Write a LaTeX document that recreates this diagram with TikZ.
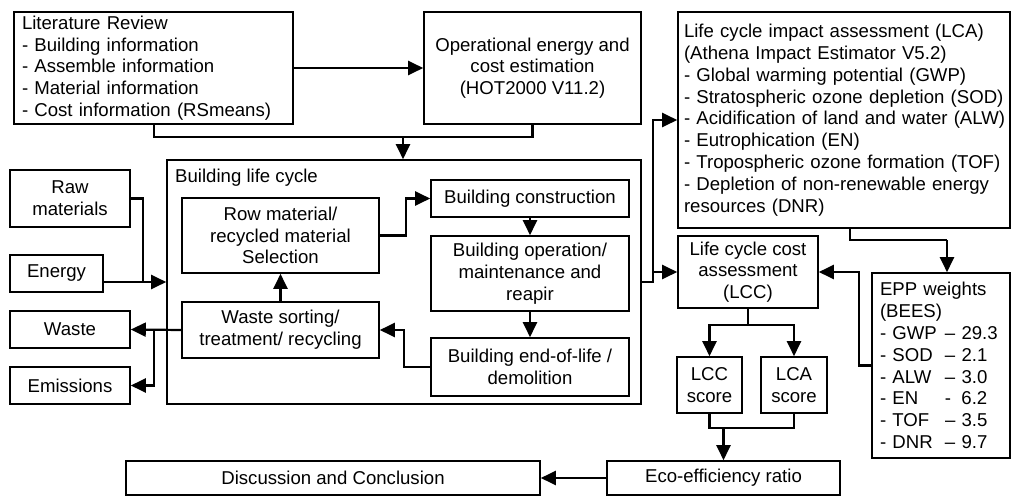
\documentclass[tikz,border=0pt]{standalone}
\usepackage{fontspec}
\setmainfont{Liberation Sans}
\usetikzlibrary{arrows.meta,calc}
\begin{document}
\begin{tikzpicture}[x=1pt,y=-1pt,
  font=\fontsize{18.6}{21.8}\selectfont,
  box/.style={draw, line width=1.6pt, inner sep=0pt, align=center},
  lbox/.style={draw, line width=1.6pt, inner ysep=0pt, align=left},
  con/.style={line width=2.2pt},
  arr/.style={line width=2.2pt, -{Triangle[length=15pt 0,width=14pt 0]}}]
\useasboundingbox (0,0) rectangle (1013,498);

% top row
\node[lbox, text width=263pt, inner xsep=8pt, minimum height=112pt] (lit) at (153.5,68)
  {Literature Review\\- Building information\\- Assemble information\\- Material information\\- Cost information (RSmeans)};
\node[box, minimum width=217pt, minimum height=112pt] (op) at (532.5,68)
  {Operational energy and\\cost estimation\\(HOT2000 V11.2)};
\node[lbox, text width=320pt, inner xsep=6pt, minimum height=216pt] (lca) at (844,120)
  {Life cycle impact assessment (LCA)\\(Athena Impact Estimator V5.2)\\- Global warming potential (GWP)\\- Stratospheric ozone depletion (SOD)\\\mbox{- Acidification of land and water (ALW)}\\- Eutrophication (EN)\\- Tropospheric ozone formation (TOF)\\- Depletion of non-renewable energy\\resources (DNR)};

% left column
\node[box, minimum width=120pt, minimum height=57pt] (raw) at (70,198.5) {Raw\\materials};
\node[box, minimum width=93pt, minimum height=37pt] (energy) at (56.5,273.5) {Energy};
\node[box, minimum width=120pt, minimum height=37pt] (waste) at (70,329.5) {Waste};
\node[box, minimum width=120pt, minimum height=37pt] (emis) at (70,385.5) {Emissions};

% building life cycle
\node[box, minimum width=474pt, minimum height=244pt] (blc) at (404,282) {};
\node[anchor=west, inner sep=0pt] (blctitle) at (175,178) {Building life cycle};
\node[box, minimum width=197pt, minimum height=75pt] (rowmat) at (280.5,235.5)
  {Row material/\\recycled material\\Selection};
\node[box, minimum width=197pt, minimum height=56pt] (wsort) at (280.5,330)
  {Waste sorting/\\treatment/ recycling};
\node[box, minimum width=198pt, minimum height=37pt] (constr) at (530,198.5) {Building construction};
\node[box, minimum width=198pt, minimum height=75pt] (oper) at (530,273.5)
  {Building operation/\\maintenance and\\reapir};
\node[box, minimum width=198pt, minimum height=58pt] (eol) at (530,367)
  {Building end-of-life /\\demolition};

% right side
\node[box, minimum width=140pt, minimum height=72pt] (lcc) at (748,272)
  {Life cycle cost\\assessment\\(LCC)};
\node[box, minimum width=65pt, minimum height=56pt] (lccs) at (709.5,385) {LCC\\score};
\node[box, minimum width=66pt, minimum height=56pt] (lcas) at (794,385) {LCA\\score};
\node[lbox, text width=122pt, inner xsep=8pt, minimum height=185pt] (epp) at (941,365.5)
  {EPP weights\\(BEES)\\
   \makebox[65pt][l]{- GWP}– 29.3\\
   \makebox[65pt][l]{- SOD}– 2.1\\
   \makebox[65pt][l]{- ALW}– 3.0\\
   \makebox[65pt][l]{- EN}-\hspace{0.55em}6.2\\
   \makebox[65pt][l]{- TOF}– 3.5\\
   \makebox[65pt][l]{- DNR}– 9.7};

% bottom
\node[box, minimum width=414pt, minimum height=34pt] (disc) at (333,478) {Discussion and Conclusion};
\node[box, minimum width=233pt, minimum height=34pt] (eco) at (723.5,478) {Eco-efficiency ratio};

% junction coordinates
\coordinate (j0) at (154,137);
\coordinate (j1) at (403,137);
\coordinate (j2) at (143,282);
\coordinate (j3) at (154,330);
\coordinate (j4) at (406,235.5);
\coordinate (j5) at (404,367);
\coordinate (j6) at (653,282);
\coordinate (j7) at (850,240);
\coordinate (j8) at (947,240);
\coordinate (j9) at (859,272);
\coordinate (j10) at (748,325);
\coordinate (j11) at (723.5,428);

% connectors
\draw[arr] (lit) -- (op);
\draw[con] (lit.south -| j0) -- (j0) -- (j1);
\draw[con] (op.south) |- (j1);
\draw[arr] (j1) -- (j1 |- blc.north);

\draw[con] (raw.east) -| (j2);
\draw[arr] (energy.east |- blc.west) -- (blc.west);

\draw[arr] (wsort.west) -- (waste.east);
\draw[arr] (j3) |- (emis.east);

\draw[arr] (wsort.north) -- (rowmat.south);
\draw[arr] (rowmat.east) -- (j4) |- (constr.west);
\draw[arr] (constr.south) -- (oper.north);
\draw[arr] (oper.south) -- (eol.north);
\draw[arr] (eol.west) -- (j5) |- (wsort.east);

\draw[arr] (blc.east) -- (j6) |- (lca.west);
\draw[arr] (j6 |- lcc.west) -- (lcc.west);

\draw[con] (lca.south -| j7) -- (j7) -- (j8);
\draw[arr] (j8) -- (j8 |- epp.north);
\draw[arr] (epp.west) -| (j9) -- (lcc.east);

\draw[con] (lcc.south) -- (j10);
\draw[arr] (j10) -| (lccs.north);
\draw[arr] (j10) -| (lcas.north);
\draw[con] (lccs.south) |- (j11) -| (lcas.south);
\draw[arr] (j11) -- (eco.north);

\draw[arr] (eco.west) -- (disc.east);
\end{tikzpicture}
\end{document}
